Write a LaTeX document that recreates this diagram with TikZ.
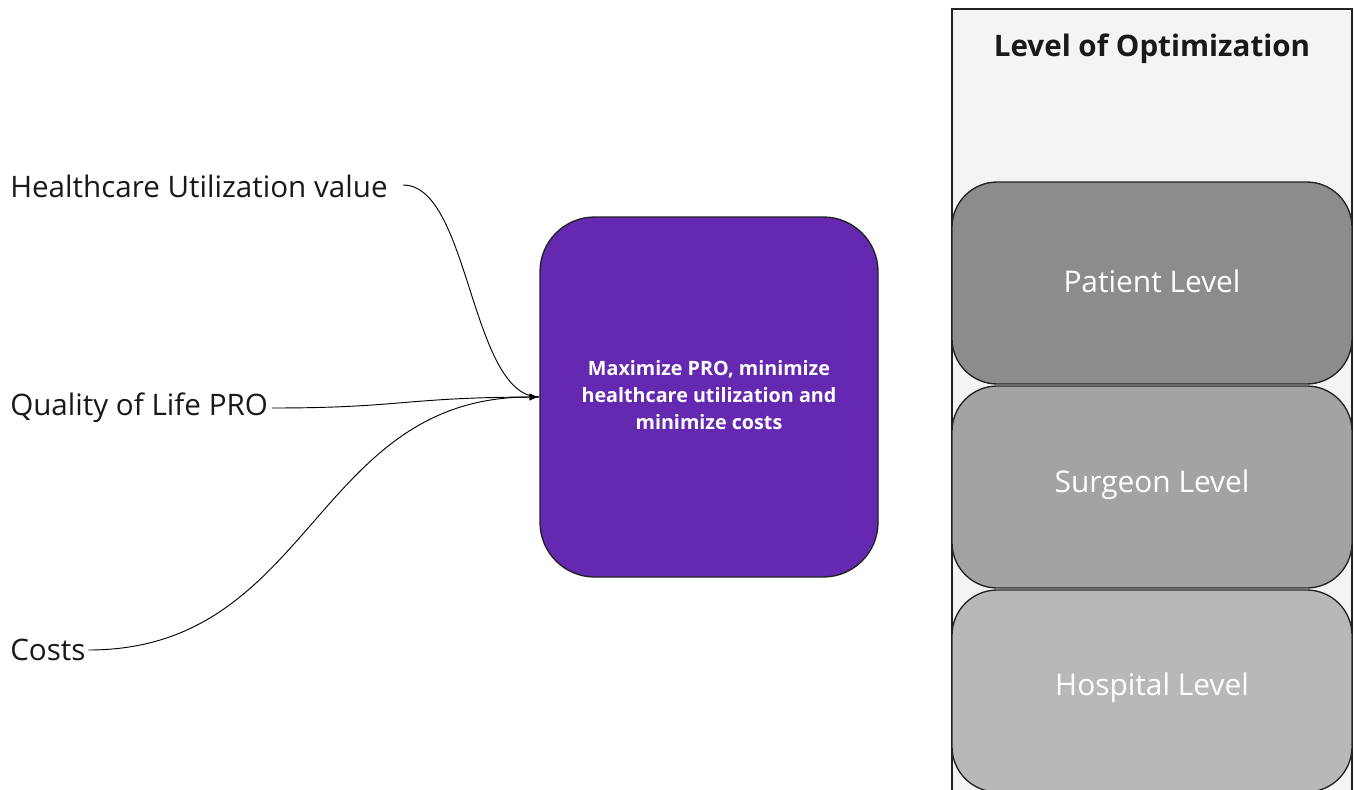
\documentclass[tikz,border=0pt]{standalone}
\usepackage{fontspec}
\setmainfont{Open Sans}
\usetikzlibrary{arrows.meta}
\definecolor{purplebox}{HTML}{6429B0}
\definecolor{panelfill}{HTML}{F4F4F4}
\definecolor{lvlone}{HTML}{8C8C8C}
\definecolor{lvltwo}{HTML}{A3A3A3}
\definecolor{lvlthree}{HTML}{B8B8B8}
\definecolor{edgegray}{HTML}{222222}
\tikzset{
  inputlabel/.style={anchor=west, inner sep=0pt, font=\fontsize{22.2}{26}\selectfont, text=black!90},
  goalbox/.style={draw=edgegray, line width=1pt, fill=purplebox, rounded corners=41pt,
    minimum width=253.5pt, minimum height=270pt},
  goaltext/.style={text=white, align=center, font=\bfseries\fontsize{14.8}{20.25}\selectfont},
  levelbox/.style={draw=edgegray, line width=1pt, rounded corners=34pt,
    minimum width=300pt, minimum height=151.5pt},
  leveltext/.style={text=white, font=\fontsize{22.4}{26}\selectfont},
  connector/.style={draw=black, line width=0.7pt},
  tipped/.style={-{Latex[length=7.5pt,width=5.5pt]}},
}
\begin{document}
\begin{tikzpicture}[x=0.75pt,y=-0.75pt]
\useasboundingbox (0,0) rectangle (1355,789);
% panel
\draw[draw=edgegray, line width=1pt, fill=panelfill] (952,9) rectangle (1352,800);
\node[font=\bfseries\fontsize{22.2}{26}\selectfont, text=black!90] (title) at (1152,49) {Level of Optimization};
% levels
\node[levelbox, fill=lvlthree] (hospital) at (1152,691) {};
\node[leveltext] (hospitalt) at (1152,688) {Hospital Level};
\node[levelbox, fill=lvltwo] (surgeon) at (1152,487) {};
\node[leveltext] (surgeont) at (1152,485) {Surgeon Level};
\node[levelbox, fill=lvlone] (patient) at (1152,283) {};
\node[leveltext] (patientt) at (1152,281) {Patient Level};
% goal
\node[goalbox] (goal) at (709,397) {};
\node[goaltext] (goalt) at (709,395) {Maximize PRO, minimize\\healthcare utilization and\\minimize costs};
% inputs
\node[inputlabel] (hc) at (10,186) {Healthcare Utilization value};
\node[inputlabel] (qol) at (10,408) {Quality of Life PRO};
\node[inputlabel] (costs) at (10,650) {Costs};
\coordinate (hcstart) at (403,185);
\draw[connector] (hcstart) .. controls (470,185) and (470,397) .. (goal.west);
\draw[connector] ([xshift=3pt]qol.east) .. controls (404,408) and (404,397) .. (goal.west);
\draw[connector, tipped] ([xshift=2pt]costs.east) .. controls (313,650) and (313,397) .. (goal.west);
\end{tikzpicture}
\end{document}
